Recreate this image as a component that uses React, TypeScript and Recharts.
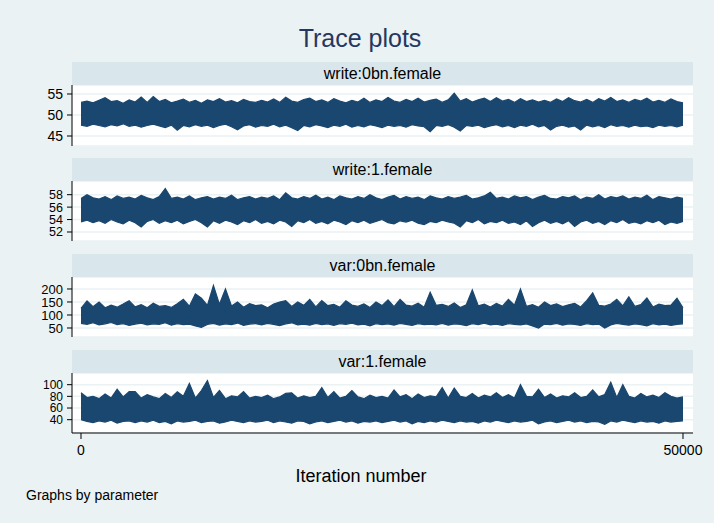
import { Area, CartesianGrid, ComposedChart, XAxis, YAxis } from "recharts";

// iterations run 0..50000, one envelope sample per 500 iterations
const lastIteration = 50000;
const xTicks = [0, 50000];

const writeFemale0Hi = [
  53.0, 53.3, 52.9, 53.5, 54.1, 53.2, 53.4, 52.8, 53.6, 53.1,
  54.3, 53.0, 54.4, 53.2, 53.7, 52.9, 53.3, 53.8, 53.0, 53.5,
  52.8, 53.6, 53.2, 53.9, 53.1, 53.4, 52.9, 53.7, 53.2, 53.0,
  53.5, 53.1, 53.8, 53.0, 54.2, 53.3, 53.0, 53.7, 54.0, 53.2,
  53.6, 53.0, 53.9, 53.3, 52.9, 53.5, 53.1, 54.0, 53.0, 53.6,
  53.2, 54.2, 53.3, 53.0, 53.7, 53.2, 54.0, 53.1, 53.5, 53.8,
  53.0, 53.6, 55.2, 53.3, 53.9, 53.1, 53.6, 54.0, 53.2, 54.1,
  53.3, 53.7, 53.0, 53.9, 53.2, 53.6, 53.1, 53.5, 53.0, 53.8,
  53.2, 54.1, 53.4, 53.1, 53.7, 53.0, 53.9, 53.3, 54.2, 53.2,
  53.6, 53.0, 53.7, 53.3, 54.0, 53.1, 53.5, 53.0, 53.8, 53.2,
  52.9,
];
const writeFemale0Lo = [
  47.6, 47.3, 47.8, 47.5, 47.2, 47.7, 47.4, 47.9, 47.3, 47.6,
  47.1, 47.5, 47.8, 47.4, 47.0, 47.6, 46.4, 47.5, 47.2, 47.7,
  47.3, 47.6, 47.0, 47.5, 47.8, 47.2, 46.5, 47.4, 47.7, 47.1,
  47.5, 47.3, 47.8, 47.2, 47.6, 47.0, 46.3, 47.5, 47.2, 47.7,
  47.4, 47.0, 47.6, 47.3, 47.8, 47.1, 47.5, 47.2, 47.7, 47.4,
  47.0, 47.6, 47.3, 47.5, 47.1, 47.7, 47.4, 47.2, 46.0, 47.5,
  47.3, 47.7, 47.1, 46.2, 47.5, 47.3, 47.6, 47.0, 47.4, 47.7,
  47.2, 47.5, 47.0, 47.6, 47.3, 47.8, 47.2, 47.5, 46.4, 47.3,
  47.6, 47.1, 47.4, 46.4, 47.6, 47.2, 47.5, 47.0, 47.7, 47.3,
  47.5, 47.1, 47.6, 47.2, 47.4, 47.0, 47.6, 47.3, 47.5, 47.2,
  47.6,
];

const writeFemale1Hi = [
  57.4, 58.0, 57.5, 57.3, 57.7, 57.2, 57.8, 57.4, 57.6, 57.3,
  57.9, 57.5, 57.2, 57.7, 59.0, 57.4, 57.6, 57.3, 57.8, 57.2,
  57.5, 57.7, 57.3, 57.6, 57.4, 57.9, 57.2, 57.5, 57.7, 57.3,
  57.6, 57.4, 57.8, 57.2, 58.3, 57.5, 57.3, 57.7, 57.4, 57.9,
  57.3, 57.6, 57.2, 57.8, 57.5, 57.3, 57.7, 57.4, 58.0, 57.5,
  57.2, 57.6, 57.9, 57.3, 57.7, 57.4, 57.6, 57.2, 57.8, 57.5,
  57.3, 57.7, 57.4, 57.6, 57.9, 57.3, 57.5, 57.8, 58.4, 57.4,
  57.6, 57.3, 57.8, 57.5, 57.7, 57.2, 57.6, 57.9, 57.4, 57.3,
  57.7, 57.5, 57.8, 57.2, 57.6, 57.4, 58.0, 57.3, 57.7, 57.5,
  57.8, 57.3, 57.6, 57.4, 57.9, 57.2, 57.7, 57.5, 57.3, 57.6,
  57.4,
];
const writeFemale1Lo = [
  53.6, 53.9, 53.5, 53.8, 53.4, 54.0, 53.6, 53.3, 53.9, 53.5,
  52.8, 53.7, 54.0, 53.4, 53.8, 53.5, 53.9, 53.3, 53.7, 54.0,
  53.5, 52.8, 53.8, 53.4, 53.9, 53.6, 53.2, 53.8, 53.5, 54.0,
  53.4, 53.7, 53.3, 53.9, 53.6, 52.9, 53.8, 53.5, 54.0, 53.4,
  53.7, 53.3, 53.9, 53.6, 53.2, 53.8, 53.5, 53.9, 53.4, 53.7,
  54.0, 53.5, 53.3, 53.8, 53.6, 53.9, 53.4, 53.2, 53.7, 53.5,
  53.9, 53.6, 53.4, 52.8, 53.8, 53.5, 54.0, 53.3, 53.7, 53.5,
  53.9, 53.4, 53.6, 53.2, 53.8, 52.9, 53.5, 53.9, 53.4, 53.7,
  53.3, 53.8, 52.9, 53.6, 53.9, 53.4, 53.7, 53.2, 53.8, 53.5,
  54.0, 53.4, 53.6, 53.3, 53.8, 53.5, 53.9, 53.2, 53.6, 53.4,
  53.7,
];

const varFemale0Hi = [
  125, 154, 132, 150, 128, 138, 130, 142, 155, 131,
  140, 128, 145, 133, 136, 129, 143, 160, 134, 181,
  165, 137, 213, 141, 200, 135, 150, 130, 144, 136,
  139, 128, 142, 150, 155, 133, 150, 137, 160, 131,
  155, 136, 141, 130, 155, 138, 133, 143, 129, 150,
  136, 158, 132, 160, 138, 134, 145, 130, 187, 137,
  141, 133, 146, 129, 139, 196, 135, 142, 131, 144,
  134, 160, 138, 200, 133, 140, 130, 150, 136, 143,
  132, 139, 145, 131, 155, 185, 137, 134, 142, 160,
  135, 170, 133, 140, 165, 131, 142, 136, 138, 164,
  128,
];
const varFemale0Lo = [
  68, 64, 70, 62, 66, 71, 63, 67, 60, 65,
  69, 62, 66, 64, 70, 61, 67, 63, 65, 58,
  52, 64, 68, 61, 66, 63, 69, 60, 65, 67,
  62, 68, 64, 59, 66, 70, 62, 65, 61, 68,
  63, 66, 60, 67, 64, 69, 62, 65, 58, 67,
  63, 66, 61, 68, 64, 60, 67, 63, 65, 62,
  68, 61, 66, 64, 59, 67, 63, 69, 62, 65,
  60, 67, 64, 62, 66, 58, 50, 65, 63, 68,
  61, 66, 64, 60, 67, 63, 65, 50, 62, 68,
  64, 61, 66, 63, 58, 67, 62, 65, 60, 64,
  66,
];

const varFemale1Hi = [
  86, 78, 80, 76, 84, 77, 92, 79, 88, 88,
  77, 83, 79, 76, 85, 78, 88, 80, 102, 77,
  90, 107, 78, 90, 76, 81, 79, 88, 77, 80,
  78, 82, 76, 79, 85, 86, 77, 81, 78, 80,
  95, 78, 88, 77, 80, 90, 79, 76, 82, 78,
  80, 77, 91, 79, 83, 76, 84, 78, 81, 79,
  95, 77, 94, 80, 78, 85, 77, 82, 79, 86,
  78, 83, 77, 100, 80, 79, 92, 78, 84, 77,
  81, 79, 86, 78, 80, 91, 79, 83, 104, 78,
  100, 80, 77, 85, 79, 82, 78, 86, 80, 77,
  79,
];
const varFemale1Lo = [
  40, 37, 35, 38, 36, 39, 34, 37, 38, 35,
  38, 36, 39, 35, 37, 33, 38, 36, 37, 39,
  35, 37, 38, 34, 36, 39, 37, 35, 38, 36,
  37, 39, 35, 38, 36, 34, 38, 37, 33, 36,
  38, 35, 37, 39, 36, 38, 34, 37, 36, 38,
  35, 37, 39, 36, 38, 33, 37, 35, 38, 36,
  39, 37, 35, 38, 36, 37, 34, 38, 36, 39,
  37, 35, 38, 36, 37, 39, 33, 36, 38, 35,
  37, 39, 36, 38, 35, 37, 36, 32, 38, 36,
  39, 37, 35, 38, 36, 37, 34, 38, 36, 37,
  38,
];

const FONT = "'Liberation Sans', Arial, Helvetica, sans-serif";
const NAVY = "#1a476f";
const PLOT_LEFT = 72;
const PLOT_RIGHT = 693;

const panels = [
  {
    label: "write:0bn.female",
    hi: writeFemale0Hi,
    lo: writeFemale0Lo,
    domain: [42.62, 57.14],
    ticks: [45, 50, 55],
    stripTop: 62,
    plotTop: 85,
    plotH: 61,
    tickFont: 14,
  },
  {
    label: "write:1.female",
    hi: writeFemale1Hi,
    lo: writeFemale1Lo,
    domain: [50.55, 60.2],
    ticks: [52, 54, 56, 58],
    stripTop: 158,
    plotTop: 181,
    plotH: 60,
    tickFont: 12.5,
  },
  {
    label: "var:0bn.female",
    hi: varFemale0Hi,
    lo: varFemale0Lo,
    domain: [15.4, 246],
    ticks: [50, 100, 150, 200],
    stripTop: 254,
    plotTop: 277,
    plotH: 60,
    tickFont: 13,
  },
  {
    label: "var:1.female",
    hi: varFemale1Hi,
    lo: varFemale1Lo,
    domain: [17.2, 120],
    ticks: [40, 60, 80, 100],
    stripTop: 350,
    plotTop: 373,
    plotH: 60,
    tickFont: 12,
  },
];

const buildRows = (hi: number[], lo: number[]) => {
  const n = Math.min(hi.length, lo.length);
  return hi.slice(0, n).map((h, i) => ({
    iter: (i * lastIteration) / (n - 1),
    band: [lo[i], h],
  }));
};

const Panel = ({ p, last }: { p: (typeof panels)[number]; last: boolean }) => {
  const rows = buildRows(p.hi, p.lo);
  return (
    <div style={{ position: "absolute", left: 0, top: p.plotTop }}>
      <ComposedChart
        width={714}
        height={p.plotH + (last ? 30 : 0)}
        data={rows}
        margin={{ top: 0, right: 714 - PLOT_RIGHT, bottom: 0, left: 0 }}
      >
        <CartesianGrid
          vertical={false}
          fill="#ffffff"
          stroke="#eaf2f3"
          strokeWidth={1.5}
        />
        <XAxis
          dataKey="iter"
          type="number"
          domain={[-747.5, 50830.6]}
          ticks={xTicks}
          allowDataOverflow
          hide={!last}
          height={30}
          interval={0}
          axisLine={{ stroke: "#000" }}
          tickLine={{ stroke: "#000" }}
          tickSize={6}
          tickMargin={6}
          tick={{ fontSize: 14, fill: "#000", fontFamily: FONT }}
        />
        <YAxis
          type="number"
          domain={p.domain}
          ticks={p.ticks}
          allowDataOverflow
          width={PLOT_LEFT}
          interval={0}
          axisLine={{ stroke: "#000" }}
          tickLine={{ stroke: "#000" }}
          tickSize={5}
          tickMargin={4}
          tick={{ fontSize: p.tickFont, fill: "#000", fontFamily: FONT }}
        />
        <Area
          dataKey="band"
          type="linear"
          stroke={NAVY}
          strokeWidth={1.2}
          strokeLinejoin="miter"
          fill={NAVY}
          fillOpacity={1}
          dot={false}
          activeDot={false}
          isAnimationActive={false}
        />
      </ComposedChart>
    </div>
  );
};

export default function App() {
  return (
    <div
      style={{
        position: "absolute",
        left: 0,
        top: 0,
        width: 714,
        height: 523,
        background: "#eaf2f3",
        fontFamily: FONT,
      }}
    >
      <svg
        width={714}
        height={523}
        style={{ position: "absolute", left: 0, top: 0 }}
      >
        <text
          x={360}
          y={47}
          textAnchor="middle"
          fontSize={25}
          fill="#253760"
          fontFamily={FONT}
        >
          Trace plots
        </text>
        {panels.map((p) => (
          <g key={p.label}>
            <rect
              x={PLOT_LEFT}
              y={p.stripTop}
              width={PLOT_RIGHT - PLOT_LEFT}
              height={p.plotTop - p.stripTop}
              fill="#d9e6eb"
            />
            <text
              x={(PLOT_LEFT + PLOT_RIGHT) / 2}
              y={p.stripTop + 17}
              textAnchor="middle"
              fontSize={16}
              fill="#000"
              fontFamily={FONT}
            >
              {p.label}
            </text>
          </g>
        ))}
        <text
          x={361}
          y={482}
          textAnchor="middle"
          fontSize={18}
          fill="#000"
          fontFamily={FONT}
        >
          Iteration number
        </text>
        <text x={26} y={500} fontSize={14} fill="#000" fontFamily={FONT}>
          Graphs by parameter
        </text>
      </svg>
      {panels.map((p, i) => (
        <Panel key={p.label} p={p} last={i === panels.length - 1} />
      ))}
    </div>
  );
}
